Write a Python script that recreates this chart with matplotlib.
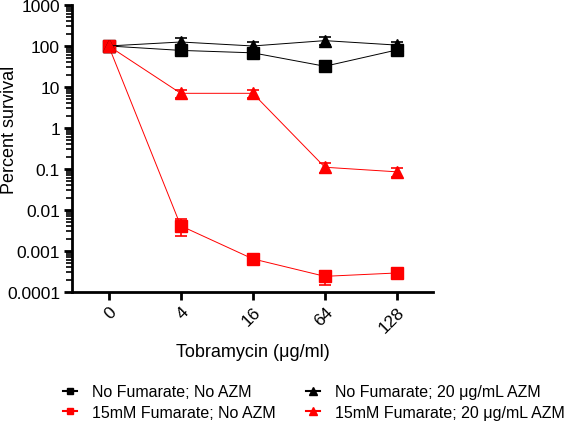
import matplotlib
matplotlib.use("Agg")
import matplotlib.pyplot as plt
from matplotlib.lines import Line2D
from matplotlib.ticker import LogLocator, NullFormatter

plt.rcParams['font.family'] = ['Liberation Sans', 'DejaVu Sans']

# ---- data ----
doses = ["0", "4", "16", "64", "128"]

nofum_noazm = [100, 78, 68, 32, 80]
nofum_noazm_err = [28, 10, 14, 5, 15]

fum_noazm = [100, 0.0041, 0.00064, 0.00024, 0.00029]
fum_noazm_err = [30, 0.0018, 0.00008, 0.00009, 0.00004]

nofum_azm = [100, 125, 100, 135, 105]
nofum_azm_err = [15, 35, 28, 32, 22]

fum_azm = [100, 7.0, 7.0, 0.11, 0.085]
fum_azm_err = [10, 1.6, 1.5, 0.03, 0.022]

labels = ["No Fumarate; No AZM", "15mM Fumarate; No AZM",
          "No Fumarate; 20 \u03bcg/mL AZM", "15mM Fumarate; 20 \u03bcg/mL AZM"]

# ---- figure ----
fig = plt.figure(figsize=(5.66, 4.27), dpi=100)
ax = fig.add_axes([0.127, 0.314, 0.638, 0.672])

x = list(range(len(doses)))
series = [
    (nofum_noazm, nofum_noazm_err, "black", "s", 8),
    (fum_noazm, fum_noazm_err, "red", "s", 8),
    (nofum_azm, nofum_azm_err, "black", "^", 9),
    (fum_azm, fum_azm_err, "red", "^", 9),
]
handles = []
for y, e, c, m, ms in series:
    ax.errorbar(x, y, yerr=e, color=c, marker=m, markersize=ms,
                lw=0.7, elinewidth=1.2, capsize=4, capthick=1.2)
    handles.append(Line2D([], [], color=c, marker=m, markersize=ms - 3, lw=1.5))

ax.set_yscale("log")
ax.set_ylim(1e-4, 1e3)
ax.set_xlim(-0.51, 4.5)

ax.yaxis.set_minor_locator(LogLocator(base=10, subs=range(2, 10), numticks=20))
ax.yaxis.set_minor_formatter(NullFormatter())
ax.set_yticks([1e-4, 1e-3, 1e-2, 1e-1, 1, 10, 100, 1000])
ax.set_yticklabels(["0.0001", "0.001", "0.01", "0.1", "1", "10", "100", "1000"])

ax.set_xticks(x)
ax.set_xticklabels(doses, rotation=45, ha="right", rotation_mode="anchor")

for s in ["top", "right"]:
    ax.spines[s].set_visible(False)
for s in ["left", "bottom"]:
    ax.spines[s].set_linewidth(2)

ax.tick_params(axis="both", which="major", labelsize=12.5, width=2, length=6,
               direction="out", pad=2.5)
ax.tick_params(axis="y", which="minor", width=1.2, length=4, direction="out")

ax.set_ylabel("Percent survival", fontsize=13)
ax.yaxis.set_label_coords(-0.15, 0.568)
ax.set_xlabel("Tobramycin (\u03bcg/ml)", fontsize=13, labelpad=6)

fig.legend(handles=handles, labels=labels, loc="upper left",
           bbox_to_anchor=(63 / 566, 0.098), ncol=2, frameon=False,
           fontsize=11.5, handlelength=0.87, columnspacing=1.9,
           handletextpad=0.94, labelspacing=0.35, borderpad=0, borderaxespad=0)

fig.savefig("out.png", dpi=100)
